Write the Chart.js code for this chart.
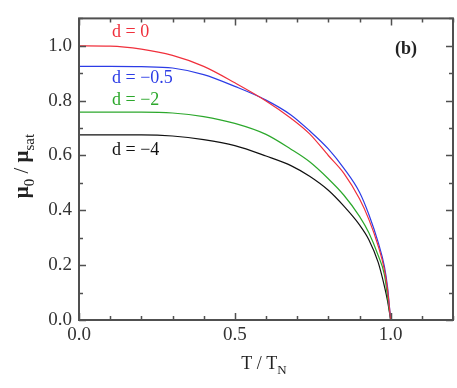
<!DOCTYPE html>
<html>
<head>
<meta charset="utf-8">
<script src="https://cdn.jsdelivr.net/npm/chart.js@4.4.1/dist/chart.umd.min.js"></script>
<style>
  html, body { margin: 0; padding: 0; background: #fff; }
  #wrap { width: 457px; height: 388px; }
</style>
</head>
<body>
<div id="wrap"><canvas id="c" width="457" height="388"></canvas></div>
<script>
// T / T_N sample points, shared by all curves
const tRatio = [0, 0.1, 0.2, 0.3, 0.4, 0.5, 0.6, 0.68, 0.74, 0.8, 0.85, 0.9, 0.93, 0.96, 0.98, 0.99, 1.0];

// mu0 / mu_sat for each d
const d0   = [1.0, 0.999, 0.988, 0.965, 0.925, 0.865, 0.799, 0.736, 0.679, 0.60, 0.535, 0.442, 0.367, 0.27, 0.183, 0.11, 0];
const dm05 = [0.925, 0.925, 0.924, 0.919, 0.895, 0.852, 0.802, 0.748, 0.69, 0.624, 0.553, 0.466, 0.385, 0.283, 0.195, 0.12, 0];
const dm2  = [0.758, 0.758, 0.758, 0.755, 0.742, 0.717, 0.677, 0.623, 0.577, 0.515, 0.455, 0.378, 0.318, 0.235, 0.165, 0.085, 0];
const dm4  = [0.675, 0.675, 0.675, 0.671, 0.658, 0.636, 0.598, 0.563, 0.524, 0.473, 0.415, 0.347, 0.293, 0.21, 0.123, 0.07, 0];

const seriesLabels = ['d = 0', 'd = \u22120.5', 'd = \u22122', 'd = \u22124'];
const seriesColors = ['#f0303c', '#2c3ce6', '#2ca82c', '#111111'];

const xTicks = [0, 0.5, 1.0];
const yTicks = [0, 0.2, 0.4, 0.6, 0.8, 1.0];

const SERIF = '"Liberation Serif", "DejaVu Serif", serif';

function pts(ys) {
  return tRatio.map((t, i) => ({ x: t, y: ys[i] }));
}

// draw text made of parts, some subscripted, centred on (cx, baseline y)
function drawParts(ctx, parts, cx, y, size) {
  const fontOf = p => (p.bold ? 'bold ' : '') + (p.sub ? Math.round(size * 0.7) : size) + 'px ' + SERIF;
  const w = parts.map(p => { ctx.font = fontOf(p); return ctx.measureText(p.t).width; });
  let x = cx - w.reduce((a, b) => a + b, 0) / 2;
  parts.forEach((p, i) => {
    ctx.font = fontOf(p);
    ctx.fillText(p.t, x, p.sub ? y + size * 0.3 : y);
    x += w[i];
  });
}

const decor = {
  id: 'decor',
  afterDraw(chart) {
    const ctx = chart.ctx;
    const a = chart.chartArea;
    const xs = chart.scales.x, ys = chart.scales.y;
    ctx.save();
    ctx.strokeStyle = '#505050';
    ctx.lineWidth = 2;
    ctx.strokeRect(a.left, a.top, a.right - a.left, a.bottom - a.top);

    // inward ticks on all four sides
    ctx.lineWidth = 1.5;
    ctx.beginPath();
    for (let i = 0; i <= 12; i++) {
      const px = Math.round(xs.getPixelForValue(i / 10)) + 0.5;
      const len = (i % 5 === 0) ? 7 : 4;
      ctx.moveTo(px, a.bottom); ctx.lineTo(px, a.bottom - len);
      ctx.moveTo(px, a.top); ctx.lineTo(px, a.top + len);
    }
    for (let i = 0; i <= 11; i++) {
      const py = Math.round(ys.getPixelForValue(i / 10)) + 0.5;
      const len = (i % 2 === 0) ? 7 : 4;
      ctx.moveTo(a.left, py); ctx.lineTo(a.left + len, py);
      ctx.moveTo(a.right, py); ctx.lineTo(a.right - len, py);
    }
    ctx.stroke();

    // curve labels
    ctx.textAlign = 'left';
    ctx.textBaseline = 'alphabetic';
    ctx.font = '18px ' + SERIF;
    const lab = [[112, 37], [112, 83], [112, 105], [112, 155]];
    seriesLabels.forEach((s, i) => {
      ctx.fillStyle = seriesColors[i];
      ctx.fillText(s, lab[i][0], lab[i][1]);
    });

    ctx.fillStyle = '#222';
    ctx.font = 'bold 18px ' + SERIF;
    ctx.fillText('(b)', 395, 54);

    // axis titles
    drawParts(ctx, [{ t: 'T / T' }, { t: 'N', sub: true }], 264, 369, 18);

    ctx.translate(28, 166);
    ctx.rotate(-Math.PI / 2);
    drawParts(ctx, [{ t: '\u03bc', bold: true }, { t: '0', sub: true }, { t: ' / ' },
                    { t: '\u03bc', bold: true }, { t: 'sat', sub: true }], 0, 0, 21);
    ctx.restore();
  }
};

const datasets = [d0, dm05, dm2, dm4].map((ys, i) => ({
  label: seriesLabels[i],
  data: pts(ys),
  borderColor: seriesColors[i],
  borderWidth: 1.2,
  pointRadius: 0,
  cubicInterpolationMode: 'monotone',
  fill: false
}));

new Chart(document.getElementById('c'), {
  type: 'line',
  data: { datasets },
  options: {
    responsive: false,
    animation: false,
    layout: { padding: { left: 0, top: 12, right: 4, bottom: 0 } },
    plugins: { legend: { display: false }, tooltip: { enabled: false } },
    scales: {
      x: {
        type: 'linear',
        min: 0, max: 1.2,
        grid: { display: false, drawTicks: false },
        border: { display: false },
        afterBuildTicks: s => { s.ticks = xTicks.map(v => ({ value: v })); },
        afterFit: s => { s.height = 68; },
        ticks: {
          padding: 4,
          color: '#333',
          font: { family: SERIF, size: 19 },
          maxRotation: 0,
          callback: v => Number(v).toFixed(1)
        }
      },
      y: {
        type: 'linear',
        min: 0, max: 1.1,
        grid: { display: false, drawTicks: false },
        border: { display: false },
        afterBuildTicks: s => { s.ticks = yTicks.map(v => ({ value: v })); },
        afterFit: s => { s.width = 79; },
        ticks: {
          padding: 7,
          color: '#333',
          font: { family: SERIF, size: 19 },
          callback: v => Number(v).toFixed(1)
        }
      }
    }
  },
  plugins: [decor]
});
</script>
</body>
</html>
